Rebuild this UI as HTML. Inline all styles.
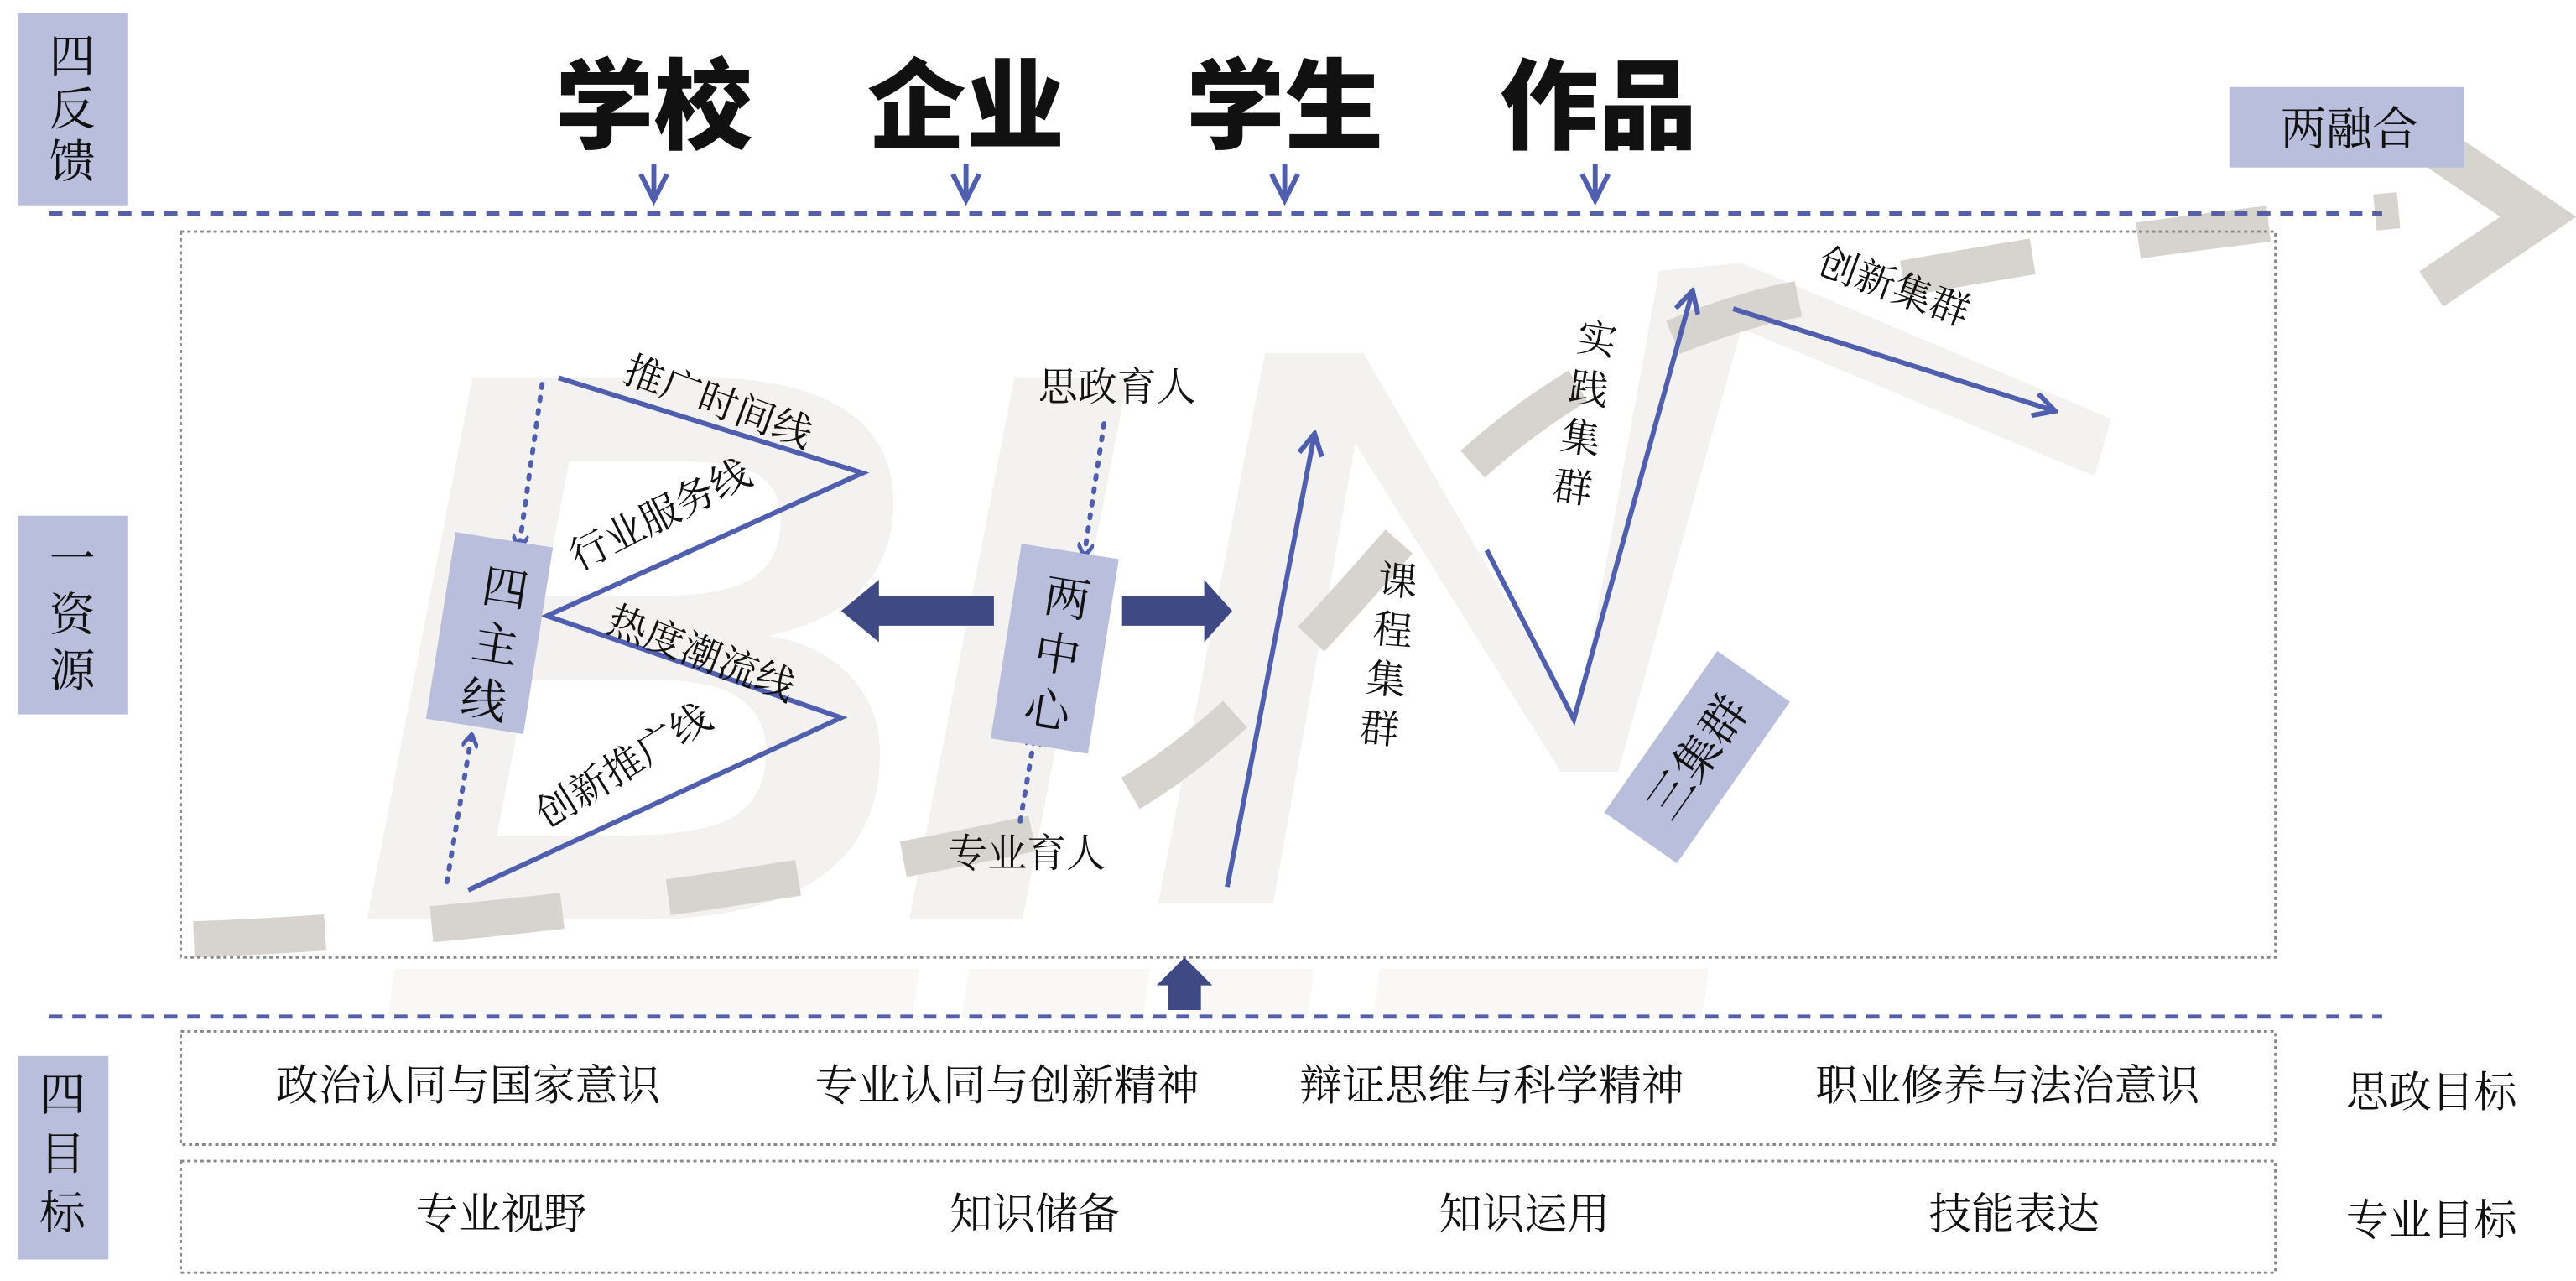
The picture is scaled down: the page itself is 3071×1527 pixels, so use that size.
<!DOCTYPE html>
<html><head><meta charset="utf-8"><style>
html,body{margin:0;padding:0;background:#fff;width:3071px;height:1527px;overflow:hidden}
svg{display:block}
text{font-family:"Liberation Serif","Noto Serif CJK SC","Noto Sans CJK SC",serif;fill:#111}
.b{font-family:"Liberation Sans","Noto Sans CJK SC",sans-serif;font-weight:900}
</style></head><body>
<svg width="3071" height="1527" viewBox="0 0 1568 780" preserveAspectRatio="none" xmlns="http://www.w3.org/2000/svg" style="overflow:hidden">
<defs>
<marker id="ah" markerWidth="10" markerHeight="10" refX="8" refY="5" orient="auto" markerUnits="userSpaceOnUse"><path d="M1,0 L9,5 L1,10" fill="none" stroke="#4f5fae" stroke-width="2.5"/></marker>
<marker id="ah2" markerWidth="16" markerHeight="16" refX="13" refY="8" orient="auto" markerUnits="userSpaceOnUse"><path d="M1,1 L14,8 L1,15" fill="none" stroke="#4f5fae" stroke-width="3"/></marker>
</defs>
<!-- background BIN -->
<text x="215" y="560" style="font-family:'Liberation Sans',sans-serif;font-weight:bold;font-style:italic;font-size:480px;fill:#f4f2f0">B</text>
<text x="545" y="560" style="font-family:'Liberation Sans',sans-serif;font-weight:bold;font-style:italic;font-size:480px;fill:#f4f2f0">I</text>
<polygon points="705,550 770,215 830,215 960,440 1010,165 1060,160 1285,255 1275,290 1060,200 985,470 950,470 825,270 775,550" fill="#f4f2f0"/>
<g fill="#f9f8f7">
<polygon points="240,590 560,590 555,620 236,620"/>
<polygon points="590,590 700,590 696,620 585,620"/>
<polygon points="725,590 800,590 796,620 720,620"/>
<polygon points="840,590 1040,590 1036,620 836,620"/>
</g>
<!-- gray dashed thick path -->
<path d="M118,572 C300,565 480,540 640,505 C720,480 790,400 860,320 C920,250 1000,205 1080,185 C1200,160 1330,140 1460,128" fill="none" stroke="#d7d3cf" stroke-width="22" stroke-dasharray="80,65"/>
<polyline points="1480,88 1545,132 1480,176" fill="none" stroke="#d7d3cf" stroke-width="26"/>
<!-- left label boxes -->
<rect x="11" y="8" width="67" height="117" fill="#b8bedc"/>
<rect x="11" y="314" width="67" height="121" fill="#b8bedc"/>
<rect x="11" y="643" width="55" height="124" fill="#b8bedc"/>
<g font-size="28" text-anchor="middle">
<text x="44" y="44">四</text><text x="44" y="76">反</text><text x="44" y="108">馈</text>
<text x="44" y="350">一</text><text x="44" y="384">资</text><text x="44" y="418">源</text>
<text x="38" y="676">四</text><text x="38" y="712">目</text><text x="38" y="748">标</text>
</g>
<rect x="1357" y="53" width="143" height="49" fill="#b8bedc"/>
<text x="1430" y="88" font-size="28" text-anchor="middle">两融合</text>
<!-- titles -->
<g class="b" font-size="60" text-anchor="middle">
<text class="b" x="398" y="86">学校</text><text class="b" x="588" y="86">企业</text><text class="b" x="782" y="86">学生</text><text class="b" x="973" y="86">作品</text>
</g>
<g stroke="#4f5fae" stroke-width="3" fill="none">
<path d="M398,100 V120 M390,106 L398,122 L406,106"/>
<path d="M588,100 V120 M580,106 L588,122 L596,106"/>
<path d="M782,100 V120 M774,106 L782,122 L790,106"/>
<path d="M971,100 V120 M963,106 L971,122 L979,106"/>
</g>
<!-- dashed lines -->
<line x1="30" y1="130" x2="1450" y2="130" stroke="#5560a8" stroke-width="2.5" stroke-dasharray="8,6"/>
<line x1="30" y1="619" x2="1450" y2="619" stroke="#5560a8" stroke-width="2.5" stroke-dasharray="8,6"/>
<!-- dotted boxes -->
<g fill="none" stroke="#888" stroke-width="1.5" stroke-dasharray="2,2">
<rect x="110" y="141" width="1275" height="442"/>
<rect x="110" y="628" width="1275" height="69"/>
<rect x="110" y="707" width="1275" height="68"/>
</g>
<!-- Z lines -->
<polyline points="340,230 525,288 333,375 512,437 285,542" fill="none" stroke="#4f5fae" stroke-width="3"/>
<line x1="330" y1="234" x2="316" y2="333" stroke="#4f5fae" stroke-width="3" stroke-dasharray="2,6" stroke-linecap="round" marker-end="url(#ah)"/>
<line x1="272" y1="537" x2="287" y2="448" stroke="#4f5fae" stroke-width="3" stroke-dasharray="2,6" stroke-linecap="round" marker-end="url(#ah)"/>
<line x1="672" y1="258" x2="660" y2="338" stroke="#4f5fae" stroke-width="3" stroke-dasharray="2,6" stroke-linecap="round" marker-end="url(#ah)"/>
<line x1="621" y1="500" x2="630" y2="447" stroke="#4f5fae" stroke-width="3" stroke-dasharray="2,6" stroke-linecap="round" marker-end="url(#ah)"/>
<!-- boxes -->
<g transform="rotate(9 298 385)"><rect x="268" y="328" width="60" height="115" fill="#b8bedc"/></g>
<g transform="rotate(9 642 395)"><rect x="612" y="335" width="60" height="120" fill="#b8bedc"/></g>
<g font-size="28" text-anchor="middle">
<text x="306" y="368" transform="rotate(9 306 368)">四</text><text x="300" y="402" transform="rotate(9 300 402)">主</text><text x="293" y="436" transform="rotate(9 293 436)">线</text>
<text x="648" y="374" transform="rotate(9 648 374)">两</text><text x="642" y="408" transform="rotate(9 642 408)">中</text><text x="636" y="442" transform="rotate(9 636 442)">心</text>
</g>
<!-- thick arrows -->
<polygon points="605,363 535,363 535,353 512,372 535,391 535,381 605,381" fill="#3f4a85"/>
<polygon points="683,363 733,363 733,353 750,372 733,391 733,381 683,381" fill="#3f4a85"/>
<polygon points="711,615 711,600 704,600 721,583 738,600 731,600 731,615" fill="#3f4a85"/>
<!-- line labels -->
<g font-size="24">
<text x="378" y="232" transform="rotate(20 378 232)">推广时间线</text>
<text x="352" y="348" transform="rotate(-27 352 348)">行业服务线</text>
<text x="368" y="384" transform="rotate(21 368 384)">热度潮流线</text>
<text x="333" y="505" transform="rotate(-32 333 505)">创新推广线</text>
<text x="680" y="244" text-anchor="middle">思政育人</text>
<text x="625" y="528" text-anchor="middle">专业育人</text>
<text x="1105" y="166" transform="rotate(20 1105 166)">创新集群</text>
</g>
<g font-size="24" text-anchor="middle">
<text x="850" y="362" transform="rotate(5 850 362)">课</text><text x="847" y="392" transform="rotate(5 847 392)">程</text><text x="843" y="422" transform="rotate(5 843 422)">集</text><text x="839" y="452" transform="rotate(5 839 452)">群</text>
<text x="971" y="215" transform="rotate(8 971 215)">实</text><text x="966" y="245" transform="rotate(8 966 245)">践</text><text x="961" y="275" transform="rotate(8 961 275)">集</text><text x="956" y="305" transform="rotate(8 956 305)">群</text>
</g>
<!-- N arrows -->
<line x1="747" y1="540" x2="800" y2="265" stroke="#4f5fae" stroke-width="3" marker-end="url(#ah2)"/>
<polyline points="905,335 958,438 1030,178" fill="none" stroke="#4f5fae" stroke-width="3" marker-end="url(#ah2)"/>
<line x1="1055" y1="188" x2="1250" y2="250" stroke="#4f5fae" stroke-width="3" marker-end="url(#ah2)"/>
<g transform="rotate(-55 1033 461)"><rect x="973" y="434" width="120" height="54" fill="#b8bedc"/><text x="1033" y="471" font-size="28" text-anchor="middle">三集群</text></g>
<!-- goals -->
<g font-size="26" text-anchor="middle">
<text x="285" y="670">政治认同与国家意识</text>
<text x="613" y="670">专业认同与创新精神</text>
<text x="908" y="670">辩证思维与科学精神</text>
<text x="1222" y="670">职业修养与法治意识</text>
<text x="1480" y="674">思政目标</text>
<text x="305" y="748">专业视野</text>
<text x="630" y="748">知识储备</text>
<text x="928" y="748">知识运用</text>
<text x="1226" y="748">技能表达</text>
<text x="1480" y="752">专业目标</text>
</g>
</svg>
</body></html>
